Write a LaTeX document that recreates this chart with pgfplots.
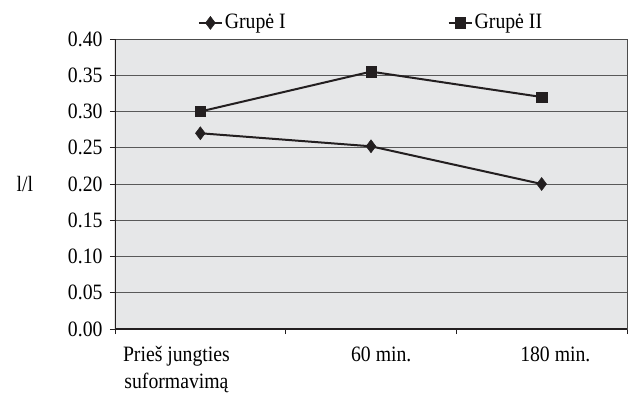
\documentclass[border=0pt]{standalone}
\usepackage{pgfplots}
\pgfplotsset{compat=1.18}
\usepackage{fontspec}
\setmainfont[FakeStretch=0.9]{Liberation Serif}
\definecolor{plotbg}{RGB}{230,231,232}
\definecolor{ink}{RGB}{35,31,32}
\begin{document}
\fontsize{22}{27}\selectfont
\begin{tikzpicture}
\begin{axis}[
  scale only axis,
  width=512bp, height=290bp,
  xmin=-0.5, xmax=2.5, ymin=0, ymax=0.4,
  axis background/.style={fill=plotbg},
  axis line style={draw=black!70, line width=0.7pt},
  % category names sit slightly off the category centres
  xtick={-0.14,1.06,2.08},
  xticklabels={{Prieš jungties\\suformavimą},{60 min.},{180 min.}},
  xticklabel style={align=center, yshift=-5bp},
  major x tick style={draw=none},
  minor xtick={-0.5,0.5,1.5,2.5},
  minor x tick style={draw=ink, line width=0.8pt},
  ytick={0,0.05,0.1,0.15,0.2,0.25,0.3,0.35,0.4},
  y tick style={draw=ink, line width=0.8pt},
  yticklabel style={/pgf/number format/.cd, fixed, fixed zerofill, precision=2, assume math mode=true},
  tick align=outside, tick pos=left,
  major tick length=5bp, minor tick length=5bp,
  ymajorgrids,
  major grid style={draw=black!65, line width=0.6pt},
  tick label style={font=\fontsize{22}{27}\selectfont},
  ylabel={l/l},
  ylabel style={rotate=-90, at={(axis description cs:-0.176,0.5)}, anchor=center},
  legend columns=2,
  legend style={draw=none, fill=none, at={(axis description cs:0.5,1)}, anchor=south,
    yshift=3bp, font=\fontsize{22}{24}\selectfont,
    /tikz/every even column/.append style={column sep=160bp}},
  legend image code/.code={\draw[mark repeat=2, mark phase=2]
    plot coordinates {(0bp,0bp) (11.5bp,0bp) (23bp,0bp)};},
  every axis plot/.append style={draw=ink, line width=2bp},
]
\addplot[mark=diamond*, mark size=6.5bp, mark options={fill=ink, draw=ink, line width=0.5pt}]
  coordinates {(0,0.270) (1,0.252) (2,0.200)};
\addlegendentry{Grupė I}
\addplot[mark=square*, mark size=5.2bp, mark options={fill=ink, draw=ink, line width=0.5pt}]
  coordinates {(0,0.300) (1,0.355) (2,0.320)};
\addlegendentry{Grupė II}
% heavier left and bottom axis lines
\draw[ink, line width=1.6pt] (rel axis cs:0,1) -- (rel axis cs:0,0) -- (rel axis cs:1,0);
\end{axis}
\pgfresetboundingbox
\path[use as bounding box] (current axis.south west) ++(-115bp,-65bp) rectangle ++(629bp,394bp);
\end{tikzpicture}
\end{document}
